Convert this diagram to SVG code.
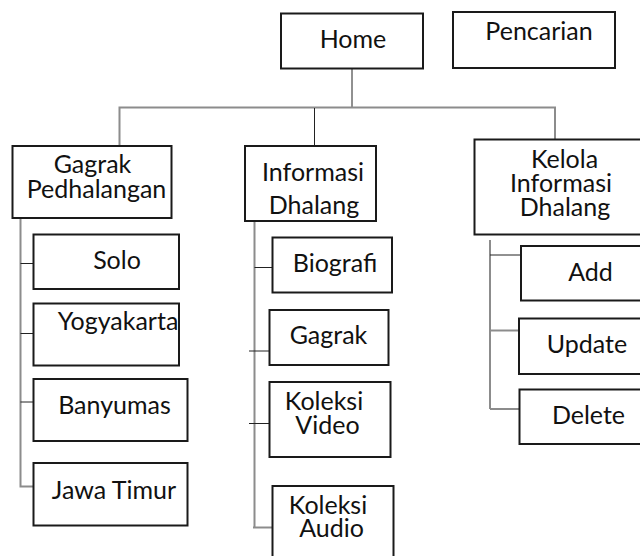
<svg xmlns="http://www.w3.org/2000/svg" width="640" height="556" viewBox="0 0 640 556">
<style>
.box{fill:#fff;stroke:#1a1a1a;stroke-width:2}
.t{font-family:Lato,"Open Sans",sans-serif;font-size:25px;fill:#111;text-anchor:middle}
.g{stroke:#8c8c8c;stroke-width:2;fill:none}
.d{stroke:#222;stroke-width:1;fill:none}
</style>
<rect width="640" height="556" fill="#fff"/>
<g id="connectors">
<line class="d" x1="352" y1="68" x2="352" y2="108"/>
<polyline class="g" points="119.5,146 119.5,107.5 555,107.5 555,139"/>
<line class="d" x1="314.5" y1="108" x2="314.5" y2="146"/>
<polyline class="g" points="20.5,218 20.5,486.5 51.5,486.5"/>
<line class="d" x1="20.5" y1="263.5" x2="51.5" y2="263.5"/>
<line class="d" x1="20.5" y1="333.5" x2="51.5" y2="333.5"/>
<line class="d" x1="20.5" y1="402" x2="51.5" y2="402"/>
<line class="g" x1="254.5" y1="221" x2="254.5" y2="527"/>
<line class="g" x1="253" y1="527.5" x2="284" y2="527.5"/>
<line class="d" x1="254.5" y1="267.5" x2="285" y2="267.5"/>
<line class="d" x1="249" y1="351" x2="281" y2="351"/>
<line class="d" x1="249" y1="423.5" x2="281" y2="423.5"/>
<line class="g" x1="490" y1="240" x2="490" y2="409"/>
<line class="d" x1="490" y1="255" x2="521" y2="255"/>
<line class="g" x1="490" y1="330.5" x2="521" y2="330.5"/>
<line class="g" x1="490" y1="409" x2="519" y2="409"/>
</g>
<g id="home"><rect class="box" x="281" y="13.5" width="142" height="55"/><text class="t" x="353" y="48">Home</text></g>
<g id="pencarian"><rect class="box" x="453" y="12" width="162" height="56"/><text class="t" x="539" y="40">Pencarian</text></g>
<g id="gagrak-pedhalangan"><rect class="box" x="12.5" y="146" width="159" height="72"/><text class="t" x="92.5" y="173">Gagrak</text><text class="t" x="96.5" y="197.5">Pedhalangan</text></g>
<g id="informasi-dhalang"><rect class="box" x="245" y="146" width="131" height="75"/><text class="t" x="313" y="181">Informasi</text><text class="t" x="314" y="213.5">Dhalang</text></g>
<g id="kelola"><rect class="box" x="474.5" y="139.5" width="175" height="95"/><text class="t" x="564.5" y="167.5">Kelola</text><text class="t" x="561" y="191.5">Informasi</text><text class="t" x="565" y="216">Dhalang</text></g>
<g id="solo"><rect class="box" x="33.5" y="234.5" width="145.5" height="54.5"/><text class="t" x="117" y="268.5">Solo</text></g>
<g id="yogyakarta"><rect class="box" x="33.5" y="303.5" width="145.5" height="62"/><text class="t" x="118" y="330">Yogyakarta</text></g>
<g id="banyumas"><rect class="box" x="33.5" y="379" width="154" height="62"/><text class="t" x="114.5" y="414">Banyumas</text></g>
<g id="jawa-timur"><rect class="box" x="33.5" y="463" width="154" height="62.5"/><text class="t" x="114" y="498.5">Jawa Timur</text></g>
<g id="biografi"><rect class="box" x="272.5" y="237.5" width="119.5" height="55"/><text class="t" x="335" y="271.5">Biografi</text></g>
<g id="gagrak"><rect class="box" x="269.5" y="310" width="119" height="55"/><text class="t" x="328.5" y="344">Gagrak</text></g>
<g id="koleksi-video"><rect class="box" x="269.5" y="382" width="121" height="75"/><text class="t" x="324" y="409.5">Koleksi</text><text class="t" x="327.5" y="433.5">Video</text></g>
<g id="koleksi-audio"><rect class="box" x="272.5" y="486" width="121" height="80"/><text class="t" x="328" y="513.5">Koleksi</text><text class="t" x="331.5" y="537">Audio</text></g>
<g id="add"><rect class="box" x="521" y="246" width="125" height="54.5"/><text class="t" x="590.5" y="281">Add</text></g>
<g id="update"><rect class="box" x="519" y="318.5" width="127" height="55.5"/><text class="t" x="587" y="352.5">Update</text></g>
<g id="delete"><rect class="box" x="519.5" y="389.5" width="127" height="54.5"/><text class="t" x="588.5" y="423.5">Delete</text></g>
</svg>
